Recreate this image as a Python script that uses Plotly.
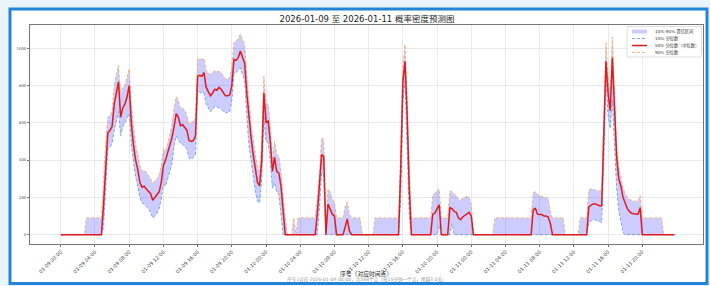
import plotly.graph_objects as go

# ---- data (15-min points, 2026-01-09 00:00 .. 2026-01-11 23:45) ----
p50 = [
    0, 0, 0, 0, 0, 0, 0, 0, 0, 0, 0, 0, 0, 0, 0, 0,
    0, 0, 0, 0, 160, 380, 545, 560, 580, 700, 760, 820, 630, 680, 700, 740,
    800, 600, 480, 400, 350, 280, 255, 260, 245, 235, 220, 185, 200, 210, 230, 280,
    370, 400, 440, 480, 520, 580, 650, 630, 585, 590, 575, 560, 505, 500, 505, 530,
    850, 855, 850, 870, 790, 770, 745, 760, 780, 775, 790, 780, 760, 745, 745, 750,
    800, 940, 935, 950, 985, 950, 920, 760, 620, 520, 430, 350, 280, 262, 400, 760,
    605, 610, 500, 340, 415, 340, 330, 260, 140, 0, 0, 0, 0, 0, 0, 0,
    0, 0, 0, 0, 0, 0, 0, 0, 115, 250, 430, 420, 0, 165, 140, 110,
    100, 0, 0, 0, 0, 40, 85, 20, 0, 0, 0, 0, 0, 0, 0, 0,
    0, 0, 0, 0, 0, 0, 0, 0, 0, 0, 0, 0, 0, 0, 0, 350,
    820, 930, 650, 250, 0, 0, 0, 0, 0, 0, 0, 0, 0, 0, 110, 115,
    140, 160, 0, 0, 0, 0, 145, 140, 125, 120, 90, 80, 95, 105, 115, 120,
    100, 0, 0, 0, 0, 0, 0, 0, 0, 0, 0, 0, 0, 0, 0, 0,
    0, 0, 0, 0, 0, 0, 0, 0, 0, 0, 0, 0, 0, 135, 140, 110,
    110, 108, 100, 100, 95, 60, 0, 0, 0, 0, 0, 0, 0, 0, 0, 0,
    0, 0, 0, 0, 0, 0, 0, 150, 160, 165, 165, 160, 155, 155, 500, 930,
    760, 665, 950, 680, 420, 300, 260, 200, 165, 140, 125, 115, 112, 110, 110, 145,
    0, 0, 0, 0, 0, 0, 0, 0, 0, 0, 0, 0, 0, 0, 0, 0,
]

p90 = [
    0, 0, 0, 0, 0, 0, 0, 0, 0, 0, 0, 0, 90, 90, 90, 90,
    90, 90, 90, 90, 290, 500, 630, 640, 660, 800, 860, 910, 750, 790, 800, 850,
    890, 700, 570, 480, 430, 370, 340, 345, 335, 320, 300, 275, 285, 300, 320, 370,
    460, 450, 490, 540, 590, 680, 740, 720, 675, 680, 665, 640, 590, 600, 610, 620,
    940, 945, 940, 945, 880, 870, 860, 870, 880, 875, 875, 870, 850, 835, 835, 840,
    900, 1030, 1040, 1050, 1075, 1050, 1020, 850, 700, 600, 510, 430, 360, 340, 500, 850,
    700, 700, 590, 400, 500, 430, 420, 340, 210, 90, 0, 0, 0, 90, 0, 90,
    90, 90, 90, 90, 90, 90, 90, 90, 200, 330, 520, 510, 0, 245, 230, 190,
    170, 90, 90, 90, 90, 150, 175, 110, 90, 90, 90, 90, 90, 0, 0, 0,
    0, 0, 0, 90, 90, 90, 90, 90, 90, 90, 90, 90, 90, 90, 90, 450,
    900, 1020, 740, 350, 90, 90, 90, 90, 90, 90, 90, 90, 90, 90, 210, 225,
    235, 245, 90, 90, 90, 90, 235, 230, 215, 210, 190, 185, 195, 200, 205, 200,
    160, 0, 0, 0, 0, 0, 0, 0, 0, 0, 0, 90, 90, 90, 90, 90,
    90, 90, 90, 90, 90, 90, 90, 90, 90, 90, 90, 90, 90, 225, 230, 215,
    210, 205, 200, 200, 195, 120, 90, 90, 90, 90, 90, 90, 0, 0, 0, 0,
    0, 0, 0, 90, 90, 90, 90, 240, 245, 245, 240, 235, 235, 240, 600, 1030,
    850, 750, 1060, 760, 470, 360, 300, 250, 220, 200, 190, 185, 180, 180, 180, 210,
    90, 90, 90, 90, 90, 90, 90, 90, 90, 90, 0, 0, 0, 0, 0, 0,
]

p10 = [
    0, 0, 0, 0, 0, 0, 0, 0, 0, 0, 0, 0, 0, 0, 0, 0,
    0, 0, 0, 0, 40, 250, 460, 470, 490, 560, 620, 660, 530, 580, 600, 630,
    650, 480, 380, 310, 260, 200, 170, 165, 150, 140, 120, 90, 100, 115, 140, 190,
    270, 260, 300, 340, 380, 480, 530, 510, 490, 485, 470, 460, 410, 405, 415, 430,
    770, 765, 760, 760, 700, 680, 660, 670, 690, 685, 680, 675, 660, 655, 655, 660,
    720, 860, 870, 880, 895, 860, 830, 640, 480, 400, 300, 230, 180, 170, 300, 630,
    500, 495, 390, 250, 280, 230, 215, 100, 0, 0, 0, 0, 0, 0, 0, 0,
    0, 0, 0, 0, 0, 0, 0, 0, 0, 150, 330, 320, 0, 0, 0, 0,
    0, 0, 0, 0, 0, 0, 0, 0, 0, 0, 0, 0, 0, 0, 0, 0,
    0, 0, 0, 0, 0, 0, 0, 0, 0, 0, 0, 0, 0, 0, 0, 200,
    700, 830, 500, 100, 0, 0, 0, 0, 0, 0, 0, 0, 0, 0, 0, 0,
    0, 50, 0, 0, 0, 0, 0, 60, 0, 0, 0, 0, 0, 0, 0, 0,
    0, 0, 0, 0, 0, 0, 0, 0, 0, 0, 0, 0, 0, 0, 0, 0,
    0, 0, 0, 0, 0, 0, 0, 0, 0, 0, 0, 0, 0, 0, 0, 0,
    0, 0, 0, 0, 0, 0, 0, 0, 0, 0, 0, 0, 0, 0, 0, 0,
    0, 0, 0, 0, 0, 0, 0, 60, 75, 80, 80, 75, 70, 65, 380, 830,
    640, 570, 720, 480, 250, 130, 60, 10, 0, 0, 0, 0, 0, 0, 0, 0,
    0, 0, 0, 0, 0, 0, 0, 0, 0, 0, 0, 0, 0, 0, 0, 0,
]

x_index = list(range(len(p50)))

tick_positions = [0, 16, 32, 48, 64, 80, 96, 112, 128, 144, 160, 176, 192, 208, 224, 240, 256, 272]
tick_labels = [
    "01-09 00:00", "01-09 04:00", "01-09 08:00", "01-09 12:00", "01-09 16:00", "01-09 20:00",
    "01-10 00:00", "01-10 04:00", "01-10 08:00", "01-10 12:00", "01-10 16:00", "01-10 20:00",
    "01-11 00:00", "01-11 04:00", "01-11 08:00", "01-11 12:00", "01-11 16:00", "01-11 20:00",
]
y_ticks = [0, 200, 400, 600, 800, 1000]

title_text = "2026-01-09 至 2026-01-11 概率密度预测图"
xlabel_text = "序号（对应时间点）"
note_text = "序号1对应 2026-01-09 00:00，共288个点（每15分钟一个点，跨越3.0天）"
legend_labels = ["10%-90% 置信区间", "10% 分位数", "50% 分位数（中位数）", "90% 分位数"]

# ---- styling ----
FONT = "DejaVu Sans, Noto Sans CJK SC, sans-serif"
BAND = "rgba(0,0,255,0.2)"
C10 = "#6c9fd8"
C90 = "#eeaa78"
C50 = "#e4191b"
PAGE_BG = "#eaf4fc"

W, H = 710, 286
L, R, T, B = 30, 7, 25, 42
PW, PH = W - L - R, H - T - B


def px(xp):
    return (xp - L) / PW


def py(yp):
    return (T + PH - yp) / PH


fig = go.Figure()

# confidence band
fig.add_trace(go.Scatter(x=x_index, y=p10, mode="lines", line=dict(width=0, color=BAND),
                         showlegend=False, hoverinfo="skip"))
fig.add_trace(go.Scatter(x=x_index, y=p90, mode="lines", line=dict(width=0, color=BAND),
                         fill="tonexty", fillcolor=BAND, showlegend=False, hoverinfo="skip"))
# quantile lines
fig.add_trace(go.Scatter(x=x_index, y=p10, mode="lines", line=dict(width=0.9, color=C10, dash="3px,2px"),
                         showlegend=False))
fig.add_trace(go.Scatter(x=x_index, y=p90, mode="lines", line=dict(width=0.9, color=C90, dash="3px,2px"),
                         showlegend=False))
fig.add_trace(go.Scatter(x=x_index, y=p50, mode="lines", line=dict(width=1.5, color=C50),
                         showlegend=False))

shapes = [
    # card
    dict(type="rect", xref="paper", yref="paper", x0=px(10), x1=px(707), y0=py(283.5), y1=py(9),
         line=dict(color="#2383d6", width=3), fillcolor="white", layer="below"),
    # legend box
    dict(type="rect", xref="paper", yref="paper", x0=px(627), x1=px(701.5), y0=py(57), y1=py(26.5),
         line=dict(color="#d6d6d6", width=0.8), fillcolor="rgba(255,255,255,0.85)", layer="above"),
    # legend symbols
    dict(type="rect", xref="paper", yref="paper", x0=px(632), x1=px(647), y0=py(33.5), y1=py(29.5),
         line=dict(width=0), fillcolor=BAND, layer="above"),
    dict(type="line", xref="paper", yref="paper", x0=px(632), x1=px(647), y0=py(38.5), y1=py(38.5),
         line=dict(color=C10, width=0.9, dash="3px,2px"), layer="above"),
    dict(type="line", xref="paper", yref="paper", x0=px(632), x1=px(647), y0=py(45.5), y1=py(45.5),
         line=dict(color=C50, width=1.5), layer="above"),
    dict(type="line", xref="paper", yref="paper", x0=px(632), x1=px(647), y0=py(52.5), y1=py(52.5),
         line=dict(color=C90, width=0.9, dash="3px,2px"), layer="above"),
]

annotations = []
for lbl, yy in zip(legend_labels, [31.5, 38.5, 45.5, 52.5]):
    annotations.append(dict(text=lbl, xref="paper", yref="paper", x=px(653), y=py(yy),
                            xanchor="left", yanchor="middle", showarrow=False,
                            font=dict(family=FONT, size=4.2, color="#333")))
annotations.append(dict(text=xlabel_text, xref="paper", yref="paper", x=px(366), y=py(273.5),
                        xanchor="center", yanchor="middle", showarrow=False,
                        font=dict(family=FONT, size=5.8, color="#222")))
annotations.append(dict(text=note_text, xref="paper", yref="paper", x=px(367), y=py(279.5),
                        xanchor="center", yanchor="middle", showarrow=False,
                        font=dict(family=FONT, size=4.6, color="#999")))

fig.update_layout(
    width=W, height=H,
    margin=dict(l=L, r=R, t=T, b=B, pad=0, autoexpand=False),
    paper_bgcolor=PAGE_BG,
    plot_bgcolor="white",
    title=dict(text=title_text, x=px(367), xref="paper", xanchor="center",
               y=1 - 19.5 / H, yref="container", yanchor="middle",
               font=dict(family=FONT, size=8.5, color="#222")),
    shapes=shapes,
    annotations=annotations,
    showlegend=False,
    font=dict(family=FONT),
)

fig.update_xaxes(
    range=[-14.4, 300.4], automargin=False,
    tickmode="array", tickvals=tick_positions, ticktext=tick_labels,
    tickangle=-45, tickfont=dict(size=5, color="#444", family=FONT),
    ticks="outside", ticklen=2, tickcolor="#777", tickwidth=0.8,
    showgrid=True, gridcolor="#e9e9e9", gridwidth=0.8,
    showline=True, linecolor="#777", linewidth=1, mirror=True,
    zeroline=False,
)
fig.update_yaxes(
    range=[-50, 1125], automargin=False,
    tickmode="array", tickvals=y_ticks,
    tickfont=dict(size=3.8, color="#444", family=FONT),
    ticks="outside", ticklen=2, tickcolor="#777", tickwidth=0.8,
    showgrid=True, gridcolor="#e9e9e9", gridwidth=0.8,
    showline=True, linecolor="#777", linewidth=1, mirror=True,
    zeroline=False,
)

page_css = ("document.body.style.margin='0';document.body.style.padding='0';"
            "document.body.style.overflow='hidden';document.body.style.background='" + PAGE_BG + "';")
fig.write_html("out.html", post_script=page_css, config={"displayModeBar": False})
